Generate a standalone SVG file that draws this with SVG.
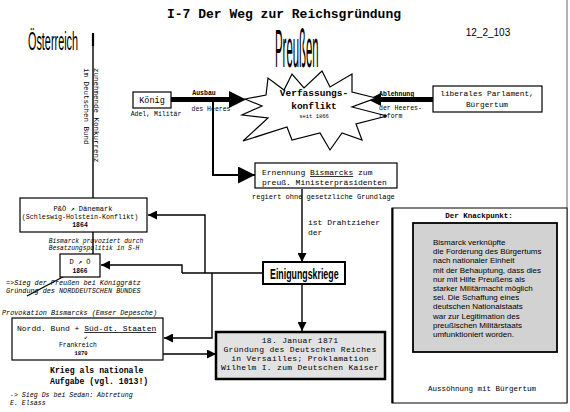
<svg xmlns="http://www.w3.org/2000/svg" width="570" height="412" viewBox="0 0 570 412">
<defs>
<style>
.m{font-family:"Liberation Mono","Courier New",monospace;fill:#000}
.mi{font-family:"Liberation Mono","Courier New",monospace;font-style:italic;fill:#000}
.s{font-family:"Liberation Sans",Arial,sans-serif;fill:#000}
.box{fill:#fff;stroke:#000;stroke-width:1.2}
.ln{fill:none;stroke:#000;stroke-width:1.4}
</style>
<marker id="ah" viewBox="0 0 10 10" refX="10" refY="5" markerWidth="9" markerHeight="9" markerUnits="userSpaceOnUse" orient="auto">
<path d="M0,0 L10,5 L0,10 z" fill="#000"/>
</marker>
<marker id="ahb" viewBox="0 0 10 10" refX="10" refY="5" markerWidth="18" markerHeight="17" markerUnits="userSpaceOnUse" orient="auto">
<path d="M0,0 L10,5 L0,10 z" fill="#000"/>
</marker>
<marker id="ahm" viewBox="0 0 10 10" refX="10" refY="5" markerWidth="13" markerHeight="16" markerUnits="userSpaceOnUse" orient="auto">
<path d="M0,0 L10,5 L0,10 z" fill="#000"/>
</marker>
</defs>
<rect x="0" y="0" width="570" height="412" fill="#fff"/>

<!-- title and headings -->
<text class="m" x="284" y="18" font-size="13" font-weight="bold" text-anchor="middle">I-7 Der Weg zur Reichsgründung</text>
<text class="s" x="488" y="36" font-size="10" text-anchor="middle">12_2_103</text>
<text class="s" font-size="25" transform="translate(28,50) scale(0.434,1)">Österreich</text>
<text class="s" font-size="53" transform="translate(275,67) scale(0.215,1)">Preußen</text>

<line x1="567" y1="0" x2="567" y2="403" stroke="#666" stroke-width="1"/>

<g id="connectors">
<line class="ln" x1="93" y1="33" x2="93" y2="262" stroke-width="1.3"/>
<line x1="93" y1="33" x2="93" y2="46" stroke="#000" stroke-width="2.2"/>
<line class="ln" x1="91" y1="262" x2="27" y2="296" stroke-width="1"/>
<!-- König -> star -->
<line x1="171" y1="99.5" x2="230" y2="99.5" stroke="#000" stroke-width="5"/>
<line x1="228" y1="99.5" x2="246" y2="99.5" stroke="#000" stroke-width="1" marker-end="url(#ahb)"/>
<!-- Parlament -> star -->
<line x1="433" y1="99.5" x2="378" y2="99.5" stroke="#000" stroke-width="5"/>
<line x1="381" y1="99.5" x2="368" y2="99.5" stroke="#000" stroke-width="1" marker-end="url(#ahm)"/>
<!-- to Ernennung -->
<path d="M213,102 V175 H240" fill="none" stroke="#000" stroke-width="2"/>
<line x1="238" y1="175" x2="255" y2="175" stroke="#000" stroke-width="2" marker-end="url(#ahb)"/>
<!-- Ernennung -> Einigungskriege -->
<line class="ln" x1="302" y1="189" x2="302" y2="262" marker-end="url(#ah)"/>
<!-- Einigungskriege -> Versailles -->
<line class="ln" x1="302" y1="284" x2="302" y2="331" marker-end="url(#ah)"/>
<!-- Einigungskriege -> left -->
<path class="ln" d="M263,273 H182"/>
<path class="ln" d="M205,273 V215 H148" marker-end="url(#ah)"/>
<path class="ln" d="M182,273 V265 H101" marker-end="url(#ah)"/>
<path class="ln" d="M212,273 V338 H164" marker-end="url(#ah)"/>
<path class="ln" d="M163,354 H216" marker-end="url(#ah)"/>
<!-- Knackpunkt -> Aussöhnung -->
<line class="ln" x1="480" y1="352" x2="480" y2="373" marker-end="url(#ah)"/>
</g>

<!-- vertical texts -->
<text class="m" font-size="7.5" transform="translate(83.5,68) rotate(90)">im Deutschen Bund</text>
<text class="m" font-size="7.5" transform="translate(93.5,68) rotate(90)">zunehmende Konkurrenz</text>

<g id="koenig">
<rect class="box" x="133" y="92" width="38" height="16"/>
<text class="m" x="152" y="103" font-size="8.5" text-anchor="middle">König</text>
<text class="m" x="156" y="116" font-size="6.5" text-anchor="middle">Adel, Militär</text>
<text class="m" x="204" y="95" font-size="6.5" text-anchor="middle" font-weight="bold">Ausbau</text>
<text class="m" x="211" y="111" font-size="6.5" text-anchor="middle">des Heeres</text>
</g>

<g id="verfassungskonflikt">
<polygon points="245,99 266,95 268,78 284,90 292,74 304,88 322,71 330,87 352,74 352,92 376,98 352,107 387,116 356,124 362,140 342,133 330,150 320,133 292,140 287,127 243,141 268,118 242,115 262,106" fill="#fff" stroke="#000" stroke-width="1.2"/>
<text class="m" x="314" y="96" font-size="9.5" font-weight="bold" text-anchor="middle">Verfassungs-</text>
<text class="m" x="314" y="109" font-size="9.5" font-weight="bold" text-anchor="middle">konflikt</text>
<text class="m" x="314" y="118" font-size="5.5" text-anchor="middle">seit 1866</text>
</g>

<g id="parlament">
<rect class="box" x="433" y="86" width="109" height="26"/>
<text class="m" x="487" y="96" font-size="7.8" text-anchor="middle">liberales Parlament,</text>
<text class="m" x="487" y="107" font-size="7.8" text-anchor="middle">Bürgertum</text>
<text class="m" x="379" y="96" font-size="6.5" font-weight="bold">Ablehnung</text>
<text class="m" x="379" y="110" font-size="6.5">der Heeres-</text>
<text class="m" x="379" y="118" font-size="6.5">reform</text>
</g>

<g id="ernennung">
<rect class="box" x="255" y="163" width="142" height="25" stroke-width="1.5"/>
<text class="m" x="262" y="175" font-size="8">Ernennung <tspan text-decoration="underline">Bismarcks</tspan> zum</text>
<text class="m" x="262" y="185" font-size="8">preuß. Ministerpräsidenten</text>
<text class="m" x="252" y="199" font-size="7">regiert ohne gesetzliche Grundlage</text>
<text class="m" x="308" y="225" font-size="8">ist Drahtzieher</text>
<text class="m" x="308" y="234.5" font-size="8">der</text>
</g>

<g id="einigungskriege">
<rect x="263" y="262" width="82" height="22" fill="#fff" stroke="#000" stroke-width="2"/>
<text class="s" font-size="14" font-weight="bold" transform="translate(270,279) scale(0.63,1)">Einigungskriege</text>
</g>

<g id="daenemark">
<rect class="box" x="20" y="198" width="127" height="34"/>
<text class="m" x="83" y="211" font-size="7" text-anchor="middle">P&amp;Ö ↗ Dänemark</text>
<text class="m" x="80" y="219" font-size="6.7" text-anchor="middle">(Schleswig-Holstein-Konflikt)</text>
<text class="m" x="80" y="227" font-size="6.5" text-anchor="middle" font-weight="bold">1864</text>
<text class="mi" x="96" y="243" font-size="6.3" text-anchor="middle">Bismarck provoziert durch</text>
<text class="mi" x="94" y="250" font-size="6.3" text-anchor="middle">Besatzungspolitik in S-H</text>
</g>

<g id="oesterreich-krieg">
<rect class="box" x="60" y="254" width="40" height="23"/>
<text class="m" x="80" y="264" font-size="7" text-anchor="middle">D ↗ Ö</text>
<text class="m" x="80" y="273" font-size="6.3" text-anchor="middle" font-weight="bold">1866</text>
<text class="mi" x="6" y="285" font-size="6.8">=&gt;Sieg der Preußen bei Königgrätz</text>
<text class="mi" x="6" y="293" font-size="6.8">Gründung des NORDDEUTSCHEN BUNDES</text>
</g>

<g id="frankreich">
<text class="mi" x="2" y="315" font-size="6.8">Provokation Bismarcks (Emser Depesche)</text>
<rect class="box" x="12" y="318" width="151" height="42"/>
<text class="m" x="17" y="331" font-size="8">Nordd. Bund + <tspan text-decoration="underline">Süd-dt. Staaten</tspan></text>
<text class="m" x="86" y="339" font-size="6.5" text-anchor="middle">↙</text>
<text class="m" x="78" y="347" font-size="6.3" text-anchor="middle">Frankreich</text>
<text class="m" x="81" y="355" font-size="5.5" text-anchor="middle" font-weight="bold">1870</text>
<text class="m" x="50" y="373" font-size="8.2" font-weight="bold">Krieg als nationale</text>
<text class="m" x="50" y="384" font-size="8.2" font-weight="bold">Aufgabe (vgl. 1013!)</text>
<text class="mi" x="10" y="397" font-size="6.6">-&gt; Sieg Ds bei Sedan: Abtretung</text>
<text class="mi" x="10" y="405" font-size="6.6">E. Elsass</text>
</g>

<g id="versailles">
<rect x="216" y="332" width="169" height="47" fill="#e2e2e2" stroke="#000" stroke-width="2.5"/>
<g class="m" font-size="8" text-anchor="middle" letter-spacing="0.3">
<text x="300" y="343">18. Januar 1871</text>
<text x="300" y="352.1">Gründung des Deutschen Reiches</text>
<text x="300" y="361.2">in Versailles; Proklamation</text>
<text x="300" y="370.3">Wilhelm I. zum Deutschen Kaiser</text>
</g>
</g>

<g id="knackpunkt">
<rect x="392" y="208" width="175" height="195" fill="#fff" stroke="#000" stroke-width="1"/>
<line x1="392.5" y1="208" x2="392.5" y2="403" stroke="#000" stroke-width="2"/>
<text class="m" x="479" y="218" font-size="7.5" font-weight="bold" text-anchor="middle">Der Knackpunkt:</text>
<rect x="413" y="223" width="144" height="129" fill="#d2d2d2" stroke="#000" stroke-width="1.8"/>
<g class="s" font-size="8">
<text x="433" y="245">Bismarck verknüpfte</text>
<text x="433" y="254.2">die Forderung des Bürgertums</text>
<text x="433" y="263.4">nach nationaler Einheit</text>
<text x="433" y="272.6">mit der Behauptung, dass dies</text>
<text x="433" y="281.8">nur mit Hilfe Preußens als</text>
<text x="433" y="291">starker Militärmacht möglich</text>
<text x="433" y="300.2">sei. Die Schaffung eines</text>
<text x="433" y="309.4">deutschen Nationalstaats</text>
<text x="433" y="318.6">war zur Legitimation des</text>
<text x="433" y="327.8">preußischen Militärstaats</text>
<text x="433" y="337">umfunktioniert worden.</text>
</g>
<text class="m" x="482" y="391" font-size="7.5" text-anchor="middle">Aussöhnung mit Bürgertum</text>
</g>
</svg>
